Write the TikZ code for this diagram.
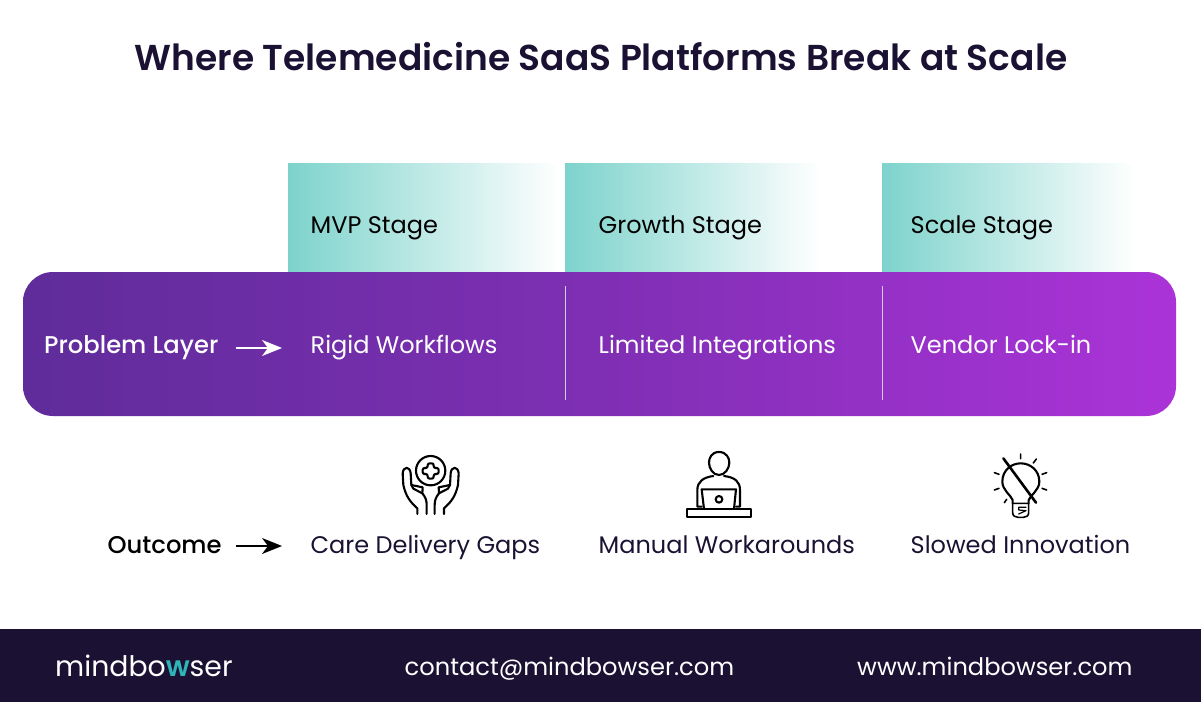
\documentclass[tikz,border=0pt]{standalone}
\usepackage{fontspec}
\setmainfont{Poppins}[BoldFont={Poppins SemiBold}]
\newfontfamily\logofont{Poppins}
\newfontfamily\logoheavy{Poppins SemiBold}
\newfontfamily\mediumfont{Poppins Medium}
\usetikzlibrary{arrows.meta}
\definecolor{inkdark}{HTML}{1B1233}
\definecolor{tealhead}{HTML}{7DD3CC}
\definecolor{teallogo}{HTML}{2FB5B8}
\definecolor{bandleft}{HTML}{5F2C9A}
\definecolor{bandmid}{HTML}{7F2FB4}
\definecolor{bandright}{HTML}{AB33D8}
\tikzset{
  stagehead/.style={left color=tealhead, right color=white, draw=none},
  rowtext/.style={anchor=base west, font=\fontsize{24}{28}\selectfont, inner sep=0pt},
  rowlabel/.style={anchor=base west, font=\fontsize{24.25}{28}\mediumfont, inner sep=0pt},
  flow/.style={-{Stealth[length=20pt,width=16pt,inset=6pt]}, line width=2pt},
  icon/.style={draw=black, line width=2.1pt, line cap=round, line join=round, fill=none},
}
\begin{document}
\begin{tikzpicture}[x=1pt, y=-1pt]
    \useasboundingbox (0,0) rectangle (1201,703);
    \fill[white] (0,0) rectangle (1201,703);

    \node[anchor=base, inner sep=0pt, text=inkdark, font=\fontsize{36}{40}\selectfont\bfseries] (title) at (601,71) {Where Telemedicine SaaS Platforms Break at Scale};

    % stage headers
    \shade[stagehead] (288,164) rectangle (560,272);
    \shade[stagehead] (565,164) rectangle (820,272);
    \shade[stagehead] (882,164) rectangle (1135,272);
    \node[rowtext, text=black] (mvp) at (310.5,234) {MVP Stage};
    \node[rowtext, text=black] (growth) at (598.5,234) {Growth Stage};
    \node[rowtext, text=black] (scale) at (910.5,234) {Scale Stage};

    % problem band
    \shade[left color=bandleft, right color=bandright, middle color=bandmid, rounded corners=30pt] (23,272) rectangle (1176,416);
    \draw[white!75!bandleft, line width=1pt] (565.5,286) -- (565.5,400);
    \draw[white!75!bandleft, line width=1pt] (882.5,286) -- (882.5,400);
    \node[rowlabel, text=white] (problem) at (44,353) {Problem Layer};
    \node[rowtext, text=white] (rigid) at (310.5,353) {Rigid Workflows};
    \node[rowtext, text=white] (limited) at (598.5,353) {Limited Integrations};
    \node[rowtext, text=white] (vendor) at (910.5,353) {Vendor Lock-in};
    \coordinate (pa) at (236,348);
    \coordinate (pb) at (282,348);
    \draw[flow, white] (pa) -- (pb);

    % outcome row
    \node[rowlabel, text=black] (outcome) at (107.5,553) {Outcome};
    \node[rowtext, text=inkdark] (care) at (310.5,553) {Care Delivery Gaps};
    \node[rowtext, text=inkdark] (manual) at (598.5,553) {Manual Workarounds};
    \node[rowtext, text=inkdark] (slowed) at (910.5,553) {Slowed Innovation};
    \coordinate (oa) at (236,546);
    \coordinate (ob) at (282,546);
    \draw[flow, black] (oa) -- (ob);

    % hands icon
    \begin{scope}[shift={(380,440)}, x=0.3333pt, y=-0.3333pt]
        \draw[icon] (152,92) circle (44);
        \draw[icon, rounded corners=2pt] (143,70) -- (161,70) -- (161,84) -- (176,84) -- (176,102) -- (161,102) -- (161,116) -- (143,116) -- (143,102) -- (128,102) -- (128,84) -- (143,84) -- cycle;
        \foreach \m in {1,-1} {
            \begin{scope}[xshift=152pt/3, x={(\m*0.3333pt,0)}]
                \draw[icon] (-40,222) -- (-40,205) .. controls (-62,185) and (-74,170) .. (-82,135) -- (-84,100) .. controls (-82,78) and (-62,78) .. (-60,100) -- (-58,135) .. controls (-56,142) .. (-52,146) -- (-25,160) .. controls (-15,172) and (-12,182) .. (-12,195) -- (-12,222);
                \draw[icon] (-25,160) -- (-24,142) -- (-58,135);
            \end{scope}
        }
    \end{scope}

    % person icon
    \begin{scope}[shift={(660,440)}, x=0.3333pt, y=-0.3333pt]
        \draw[icon] (177,36) .. controls (200,36) and (208,55) .. (208,68) .. controls (208,85) and (195,105) .. (177,105) .. controls (159,105) and (147,85) .. (147,68) .. controls (147,55) and (154,36) .. (177,36) -- cycle;
        \draw[icon] (125,200) -- (112,200) -- (112,150) .. controls (112,125) and (130,112) .. (160,108) (192,108) .. controls (225,112) and (240,125) .. (240,150) -- (240,200) -- (228,200);
        \draw[icon] (132,207) -- (125,148) -- (228,148) -- (222,207);
        \draw[icon] (177,178) circle (10);
        \draw[icon] (82,207) rectangle (272,230);
    \end{scope}

    % bulb icon
    \begin{scope}[shift={(970,440)}, x=0.3333pt, y=-0.3333pt]
        \draw[icon] (128,190) -- (128,180) .. controls (122,165) and (97,150) .. (97,125) .. controls (97,90) and (125,70) .. (152,70) .. controls (180,70) and (208,90) .. (208,125) .. controls (208,150) and (182,165) .. (176,180) -- (176,190);
        \draw[icon, line width=1.6pt] (128,190) -- (176,190) -- (176,218) .. controls (176,228) and (168,232) .. (160,232) -- (144,232) .. controls (136,232) and (128,228) .. (128,218) -- cycle;
        \draw[icon, line width=1.2pt] (168,202) -- (146,202) -- (146,210) -- (168,212) -- (146,222);
        \draw[icon, line width=2.6pt] (100,55) -- (198,188);
        \draw[icon, line width=1.6pt] (152,42) -- (152,56) (199,57) -- (190,69) (230,98) -- (216,103) (230,150) -- (216,145) (73,98) -- (87,103) (73,150) -- (87,145) (110,178) -- (103,188);
    \end{scope}

    % footer
    \fill[inkdark] (0,629) rectangle (1201,702);
    \node[anchor=base west, inner sep=0pt, text=white, font=\fontsize{28.3}{34}\logofont] (logo) at (55,676) {mindbo{\logoheavy\textcolor{teallogo}{w}}ser};
    \node[anchor=base west, inner sep=0pt, text=white, font=\fontsize{24.15}{28}\selectfont] (mail) at (404.5,675) {contact@mindbowser.com};
    \node[anchor=base west, inner sep=0pt, text=white, font=\fontsize{24.15}{28}\selectfont] (web) at (857,675) {www.mindbowser.com};
\end{tikzpicture}
\end{document}
